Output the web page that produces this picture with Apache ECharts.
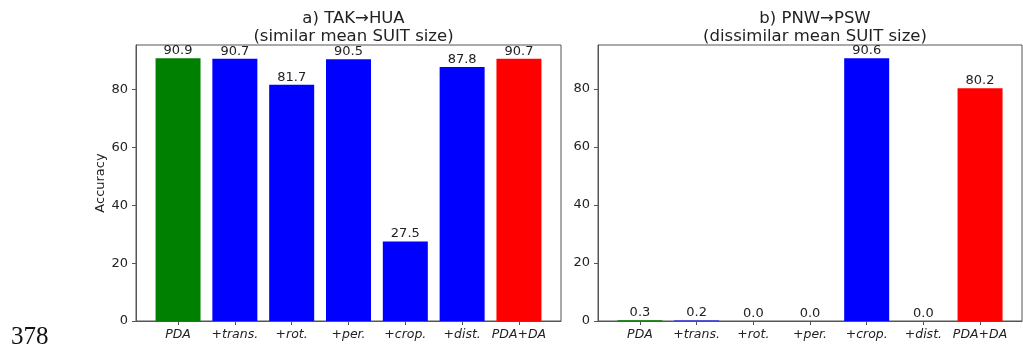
<!DOCTYPE html>
<html>
<head>
<meta charset="utf-8">
<script src="https://cdn.jsdelivr.net/npm/echarts@6/dist/echarts.min.js"></script>
<style>
  html, body { margin: 0; padding: 0; background: #fff; }
  #chart { width: 1023px; height: 358px; }
</style>
</head>
<body>
<div id="chart"></div>
<script>
const categories = ['PDA', '+trans.', '+rot.', '+per.', '+crop.', '+dist.', 'PDA+DA'];
const barColors = ['#008000', '#0000ff', '#0000ff', '#0000ff', '#0000ff', '#0000ff', '#ff0000'];
const accTakHua = [90.9, 90.7, 81.7, 90.5, 27.5, 87.8, 90.7];
const accPnwPsw = [0.3, 0.2, 0.0, 0.0, 90.6, 0.0, 80.2];
const yTicks = [0, 20, 40, 60, 80];
const panelTitles = ['a) TAK→HUA\n(similar mean SUIT size)', 'b) PNW→PSW\n(dissimilar mean SUIT size)'];

const frame = '#555';
const ink = '#222';
const font = 'DejaVu Sans';

const grids = [
  { left: 136, top: 45, width: 425, height: 276 },
  { left: 598, top: 45, width: 424, height: 276 },
];

// matplotlib-style limits: 5% margin on x, ymax = 1.05 * max
const xAxisFor = (gi) => ({
  type: 'value',
  gridIndex: gi,
  min: -0.74,
  max: 6.74,
  splitLine: { show: false },
  axisLine: { show: true, onZero: false, lineStyle: { color: frame } },
  axisTick: { show: true, length: 4, lineStyle: { color: frame }, customValues: [0, 1, 2, 3, 4, 5, 6] },
  axisLabel: {
    customValues: [0, 1, 2, 3, 4, 5, 6],
    formatter: (v) => categories[Math.round(v)],
    fontFamily: font, fontSize: 12.5, fontStyle: 'italic', color: ink, margin: 7,
  },
});

const yAxisFor = (gi, data) => ({
  type: 'value',
  gridIndex: gi,
  min: 0,
  max: Math.max(...data) * 1.05,
  splitLine: { show: false },
  axisLine: { show: true, onZero: false, lineStyle: { color: frame } },
  axisTick: { show: true, length: 4, lineStyle: { color: frame }, customValues: yTicks },
  axisLabel: { customValues: yTicks, fontFamily: font, fontSize: 13, color: ink, margin: 8 },
  name: gi === 0 ? 'Accuracy' : '',
  nameLocation: 'middle',
  nameGap: 26,
  nameTextStyle: { fontFamily: font, fontSize: 13, color: ink },
});

const seriesFor = (gi, data) => ({
  type: 'bar',
  xAxisIndex: gi,
  yAxisIndex: gi,
  barWidth: 45,
  data: data.map((v, i) => ({ value: [i, v], itemStyle: { color: barColors[i] } })),
  label: {
    show: true,
    position: 'top',
    distance: 1,
    formatter: (p) => p.value[1].toFixed(1),
    fontFamily: font, fontSize: 13, color: ink,
  },
  animation: false,
});

const chart = echarts.init(document.getElementById('chart'));
chart.setOption({
  animation: false,
  title: panelTitles.map((t, i) => ({
    text: t,
    left: grids[i].left + grids[i].width / 2,
    top: 4,
    textAlign: 'center',
    textStyle: { fontFamily: font, fontSize: 16.5, fontWeight: 'normal', color: ink, lineHeight: 18.5 },
  })),
  grid: grids.map((g) => ({ ...g, show: true, borderColor: frame, borderWidth: 1, backgroundColor: 'transparent' })),
  xAxis: [xAxisFor(0), xAxisFor(1)],
  yAxis: [yAxisFor(0, accTakHua), yAxisFor(1, accPnwPsw)],
  series: [seriesFor(0, accTakHua), seriesFor(1, accPnwPsw)],
  graphic: [{
    type: 'text',
    left: 11,
    top: 325,
    style: { text: '378', font: '25px "Liberation Serif"', fill: '#111' },
  }],
});
</script>
</body>
</html>
